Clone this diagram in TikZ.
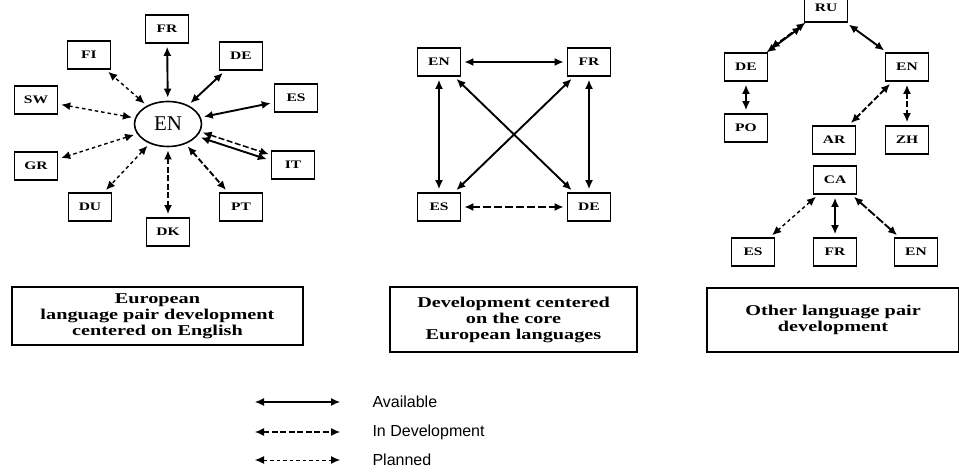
\documentclass[tikz,border=0pt]{standalone}
\usepackage{fontspec}
\setmainfont{Liberation Serif}
\setsansfont{Liberation Sans}
\newfontfamily\widefont[FakeStretch=1.35]{Liberation Serif}
\usetikzlibrary{arrows.meta,positioning,shapes.geometric}

\begin{document}
\begin{tikzpicture}[x=1pt,y=-1pt,
      lang/.style={draw,line width=1.6pt,minimum width=43pt,minimum height=28pt,
                   inner sep=0pt,font=\widefont\fontsize{11.5}{12}\selectfont\bfseries},
      caption/.style={draw,line width=1.6pt,align=center,inner sep=0pt,
                      font=\widefont\fontsize{15}{16}\selectfont\bfseries},
      avail/.style={{Latex[length=9pt,width=8pt]}-{Latex[length=9pt,width=8pt]},
                    line width=1.9pt,shorten <=3pt,shorten >=3pt},
      indev/.style={avail,dash pattern=on 6pt off 2.5pt},
      planned/.style={avail,line width=1.4pt,dash pattern=on 3.5pt off 3pt},
      legtext/.style={anchor=west,font=\sffamily\fontsize{16}{18}\selectfont}]

    \useasboundingbox (0,0) rectangle (959,473);

    % English in the middle, the other languages round it
    \node[ellipse,draw,line width=1.6pt,minimum width=67pt,minimum height=45pt,
          font=\fontsize{21}{22}\selectfont] (en) at (168,124) {EN};
    \node[lang] (fr) at (167,29)  {FR};
    \node[lang] (fi) at (89,55)   {FI};
    \node[lang] (de) at (241,56)  {DE};
    \node[lang] (sw) at (36,100)  {SW};
    \node[lang] (es) at (296,98)  {ES};
    \node[lang] (gr) at (36,166)  {GR};
    \node[lang] (it) at (293,165) {IT};
    \node[lang] (du) at (90,207)  {DU};
    \node[lang] (pt) at (241,207) {PT};
    \node[lang] (dk) at (168,232) {DK};

    \foreach \b in {fr,de,es}
      \draw[avail] (en) -- (\b);
    \foreach \b in {fi,sw,gr,du}
      \draw[planned] (en) -- (\b);
    \foreach \b in {dk,pt}
      \draw[indev] (en) -- (\b);
    \draw[indev,line width=1.5pt,transform canvas={xshift=1pt,yshift=2.5pt}] (en) -- (it);
    \draw[avail,transform canvas={xshift=-1pt,yshift=-2.5pt}] (en) -- (it);

    % the core square
    \node[lang] (cen) at (439,62)  {EN};
    \node[lang] (cfr) at (589,62)  {FR};
    \node[lang] (ces) at (439,207) {ES};
    \node[lang] (cde) at (589,207) {DE};

    \foreach \a/\b in {cen/cfr,cen/ces,cfr/cde,cen/cde,cfr/ces}
      \draw[avail] (\a) -- (\b);
    \draw[indev,dash pattern=on 8pt off 3pt] (ces) -- (cde);

    % the other pairs
    \node[lang] (ru)  at (826,8)   {RU};
    \node[lang] (rde) at (746,67)  {DE};
    \node[lang] (ren) at (907,67)  {EN};
    \node[lang] (po)  at (746,128) {PO};
    \node[lang] (ar)  at (834,140) {AR};
    \node[lang] (zh)  at (907,140) {ZH};
    \node[lang] (ca)  at (835,180) {CA};
    \node[lang] (aes) at (753,252) {ES};
    \node[lang] (afr) at (835,252) {FR};
    \node[lang] (aen) at (916,252) {EN};

    \draw[avail,transform canvas={xshift=-2pt,yshift=-2pt}] (ru) -- (rde);
    \draw[indev,line width=1.5pt,transform canvas={xshift=2pt,yshift=2pt}] (ru) -- (rde);
    \draw[avail] (ru) -- (ren);
    \draw[avail] (rde) -- (po);
    \draw[indev] (ren) -- (ar);
    \draw[indev] (ren) -- (zh);
    \draw[planned] (ca) -- (aes);
    \draw[avail] (ca) -- (afr);
    \draw[indev,dash pattern=on 9pt off 2pt] (ca) -- (aen);

    % captions under the three groups
    \node[caption,minimum width=291pt,minimum height=58pt] (cap1) at (157.5,316)
      {European\\language pair development\\centered on English};
    \node[caption,minimum width=247pt,minimum height=65pt] (cap2) at (513.5,319.5)
      {Development centered\\on the core\\European languages};
    \node[caption,minimum width=252pt,minimum height=64pt] (cap3) at (833,320)
      {Other language pair\\development};

    % legend
    \coordinate (la1) at (255,402); \coordinate (lb1) at (340,402);
    \coordinate (la2) at (255,432); \coordinate (lb2) at (340,432);
    \coordinate (la3) at (255,460); \coordinate (lb3) at (340,460);
    \draw[avail,shorten <=0pt,shorten >=0pt,line width=1.2pt] (la1) -- (lb1);
    \draw[indev,shorten <=0pt,shorten >=0pt,line width=1.2pt] (la2) -- (lb2);
    \draw[planned,shorten <=0pt,shorten >=0pt,line width=1pt] (la3) -- (lb3);
    \node[legtext] (t1) at (369,402) {Available};
    \node[legtext] (t2) at (369,432) {In Development};
    \node[legtext] (t3) at (369,460) {Planned};
  \end{tikzpicture}
\end{document}
